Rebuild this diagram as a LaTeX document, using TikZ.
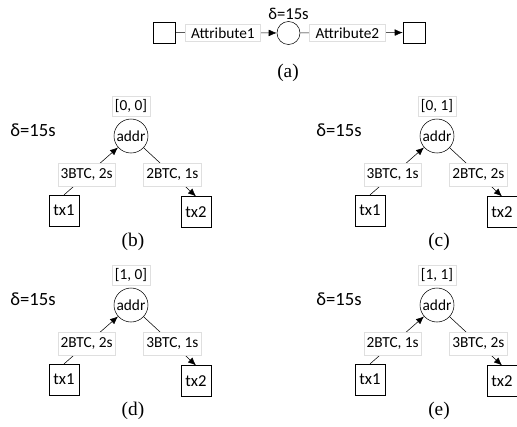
\documentclass[tikz,border=0pt]{standalone}
\usepackage{fontspec}
\setmainfont{Carlito}
\newfontfamily\capfont{Liberation Serif}
\usetikzlibrary{arrows.meta}
\usetikzlibrary{positioning}

\begin{document}
\begin{tikzpicture}[x=0.75pt,y=-0.75pt,
  every node/.style={font=\fontsize{11.5}{13}\selectfont},
  tip/.style={-{Latex[length=6pt,width=5pt]}},
  sq/.style={draw,minimum width=16.5pt,minimum height=16pt,inner sep=0pt},
  ring/.style={draw,circle,inner sep=0pt},
  attrbox/.style={draw=gray!25,fill=white,inner xsep=4.5pt,inner ysep=2pt},
  wbox/.style={draw=gray!25,fill=white,inner xsep=2pt,inner ysep=4pt},
  txbox/.style={draw,minimum width=22.5pt,minimum height=23pt,inner sep=0pt,font=\fontsize{12.5}{14}\selectfont},
  capt/.style={font=\capfont\fontsize{14.5}{16}\selectfont},
  dt/.style={font=\fontsize{14}{16}\selectfont}]
  \useasboundingbox (0,0) rectangle (517,426);

  \node[sq] (src) at (164,32.5){};
  \node[ring,minimum size=17.25pt] (hub) at (288.5,33){};
  \node[sq] (dst) at (414,32.5){};
  \node[above=0pt of hub,font=\fontsize{12.5}{14}\selectfont,inner sep=1pt] (deltaa){δ=15s};
  \draw[tip](src)--node[attrbox,pos=0.47]{Attribute1}(hub);
  \draw[tip](hub)--node[attrbox,pos=0.46]{Attribute2}(dst);
  \node[capt] (capa) at (288,73){(a)};

  \foreach \dx/\dy/\p/\pair/\lin/\lout in {0/0/b/{[0, 0]}/{3BTC, 2s}/{2BTC, 1s},
      306/0/c/{[0, 1]}/{3BTC, 1s}/{2BTC, 2s},
      0/169/d/{[1, 0]}/{2BTC, 2s}/{3BTC, 1s},
      306/169/e/{[1, 1]}/{2BTC, 1s}/{3BTC, 2s}}{
    \begin{scope}[shift={(\dx,\dy)}]
      \node[ring,minimum size=25.5pt] (addr\p) at (131,136){addr};
      \node[wbox,inner ysep=2.5pt,above=2pt of addr\p] (pair\p){\pair};
      \node[dt] (delta\p) at (33,130){δ=15s};
      \node[txbox] (txa\p) at (64,210.5){tx1};
      \node[txbox] (txb\p) at (196,212){tx2};
      \node[capt] (cap\p) at (133,242){(\p)};
      \draw[tip](txa\p.north)--node[wbox,pos=0.42]{\lin}(addr\p);
      \draw[tip](addr\p)--node[wbox,pos=0.55]{\lout}(txb\p.north);
    \end{scope}
  }
\end{tikzpicture}
\end{document}
